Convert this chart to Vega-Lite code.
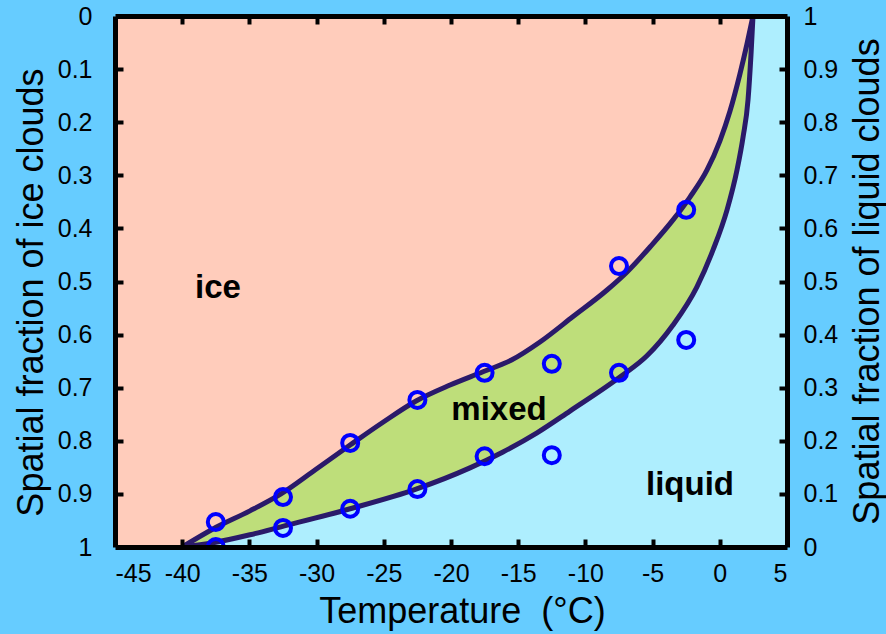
{
  "$schema": "https://vega.github.io/schema/vega-lite/v6.json",
  "autosize": {"type": "none"},
  "padding": {"left": 115, "top": 16, "right": 99, "bottom": 87},
  "width": 672,
  "height": 531,
  "background": "#66CCFF",
  "config": {
    "view": {"fill": "#AEEEFE", "stroke": null},
    "axis": {
      "domainColor": "#000000", "domainWidth": 5,
      "tickColor": "#000000", "tickWidth": 4,
      "labelFont": "Liberation Sans", "labelFontSize": 25, "labelColor": "#000000",
      "titleFont": "Liberation Sans", "titleFontSize": 36, "titleFontWeight": "normal", "titleColor": "#000000",
      "grid": false
    }
  },
  "datasets": {
    "upper": [
      {"t": -45, "ice": 1}, {"t": -40, "ice": 1}, {"t": -37.71, "ice": 0.966}, {"t": -34.96, "ice": 0.932},
      {"t": -32.65, "ice": 0.900}, {"t": -30.12, "ice": 0.855}, {"t": -27.51, "ice": 0.808}, {"t": -25.06, "ice": 0.765},
      {"t": -22.6, "ice": 0.725}, {"t": -20.07, "ice": 0.695}, {"t": -17.62, "ice": 0.670}, {"t": -15.5, "ice": 0.648},
      {"t": -13.38, "ice": 0.614}, {"t": -10.92, "ice": 0.566}, {"t": -8.39, "ice": 0.516}, {"t": -6.9, "ice": 0.482},
      {"t": -5.19, "ice": 0.435}, {"t": -3.48, "ice": 0.384}, {"t": -2.22, "ice": 0.341}, {"t": -0.95, "ice": 0.290},
      {"t": 0.01, "ice": 0.235}, {"t": 0.76, "ice": 0.179}, {"t": 1.5, "ice": 0.109}, {"t": 2.02, "ice": 0.053},
      {"t": 2.47, "ice": 0}
    ],
    "lower": [
      {"t": -40, "ice": 1}, {"t": -37.71, "ice": 0.992}, {"t": -34.96, "ice": 0.977}, {"t": -32.65, "ice": 0.962},
      {"t": -27.51, "ice": 0.928}, {"t": -22.6, "ice": 0.891}, {"t": -18.59, "ice": 0.851}, {"t": -16.13, "ice": 0.821},
      {"t": -13.6, "ice": 0.785}, {"t": -11.15, "ice": 0.744}, {"t": -7.43, "ice": 0.680}, {"t": -5.42, "ice": 0.640},
      {"t": -3.48, "ice": 0.582}, {"t": -1.7, "ice": 0.510}, {"t": -0.51, "ice": 0.441}, {"t": 0.54, "ice": 0.365},
      {"t": 1.28, "ice": 0.290}, {"t": 1.73, "ice": 0.228}, {"t": 2.1, "ice": 0.158}, {"t": 2.32, "ice": 0.073},
      {"t": 2.47, "ice": 0}
    ],
    "pts": [
      {"t": -37.5, "ice": 0.953}, {"t": -32.5, "ice": 0.906}, {"t": -27.5, "ice": 0.804}, {"t": -22.5, "ice": 0.723},
      {"t": -17.5, "ice": 0.672}, {"t": -12.5, "ice": 0.655}, {"t": -7.5, "ice": 0.471}, {"t": -2.5, "ice": 0.365},
      {"t": -37.5, "ice": 1.0}, {"t": -32.5, "ice": 0.964}, {"t": -27.5, "ice": 0.928}, {"t": -22.5, "ice": 0.891},
      {"t": -17.5, "ice": 0.829}, {"t": -12.5, "ice": 0.827}, {"t": -7.5, "ice": 0.672}, {"t": -2.5, "ice": 0.610}
    ],
    "labels": [
      {"t": -37.34, "ice": 0.531, "label": "ice"},
      {"t": -16.43, "ice": 0.761, "label": "mixed"},
      {"t": -2.22, "ice": 0.902, "label": "liquid"}
    ],
    "frame": [
      {"t": -45, "liquid": 0}, {"t": 5, "liquid": 1}
    ]
  },
  "layer": [
    {
      "encoding": {
        "x": {
          "field": "t", "type": "quantitative",
          "scale": {"domain": [-45, 5], "nice": false, "zero": false},
          "axis": {
            "orient": "bottom", "values": [-45, -40, -35, -30, -25, -20, -15, -10, -5, 0, 5],
            "ticks": false, "tickSize": 0, "zindex": 2,
            "labelExpr": "'' + datum.value", "labelPadding": 14,
            "title": "Temperature\u00a0\u00a0(°C)", "titleX": 347, "titleY": 75, "titleBaseline": "alphabetic"
          }
        },
        "y": {
          "field": "ice", "type": "quantitative",
          "scale": {"domain": [0, 1], "reverse": true, "nice": false, "zero": false},
          "axis": {
            "orient": "left", "values": [0, 0.1, 0.2, 0.3, 0.4, 0.5, 0.6, 0.7, 0.8, 0.9, 1],
            "ticks": false, "tickSize": 0, "zindex": 2,
            "labelExpr": "'' + datum.value", "labelPadding": 23,
            "title": "Spatial fraction of ice clouds", "titleAngle": -90,
            "titleX": -73, "titleY": 276, "titleBaseline": "alphabetic"
          }
        }
      },
      "layer": [
        {
          "data": {"name": "lower"},
          "mark": {"type": "area", "interpolate": "monotone", "fill": "#BEDE7A", "opacity": 1},
          "encoding": {"y2": {"datum": 0}}
        },
        {
          "data": {"name": "upper"},
          "mark": {"type": "area", "interpolate": "monotone", "fill": "#FFCCBB", "opacity": 1},
          "encoding": {"y2": {"datum": 0}}
        },
        {
          "data": {"name": "upper"},
          "transform": [{"filter": "datum.t >= -40"}],
          "mark": {"type": "line", "interpolate": "monotone", "color": "#2A1A6A", "strokeWidth": 5},
          "encoding": {}
        },
        {
          "data": {"name": "lower"},
          "mark": {"type": "line", "interpolate": "monotone", "color": "#2A1A6A", "strokeWidth": 5},
          "encoding": {}
        },
        {
          "data": {"name": "pts"},
          "mark": {"type": "point", "shape": "circle", "filled": false, "color": "#0000FF", "strokeWidth": 4, "size": 256, "opacity": 1, "clip": true},
          "encoding": {}
        },
        {
          "data": {"name": "labels"},
          "mark": {"type": "text", "font": "Liberation Sans", "fontWeight": "bold", "fontSize": 33, "baseline": "alphabetic", "align": "center", "color": "#000000"},
          "encoding": {"text": {"field": "label"}}
        }
      ]
    },
    {
      "data": {"name": "frame"},
      "mark": {"type": "point", "opacity": 0},
      "encoding": {
        "x": {
          "field": "t", "type": "quantitative",
          "scale": {"domain": [-45, 5], "nice": false, "zero": false},
          "axis": {"orient": "top", "ticks": false, "labels": false, "title": null, "zindex": 2}
        },
        "y": {
          "field": "liquid", "type": "quantitative",
          "scale": {"domain": [0, 1], "nice": false, "zero": false},
          "axis": {
            "orient": "right", "values": [0, 0.1, 0.2, 0.3, 0.4, 0.5, 0.6, 0.7, 0.8, 0.9, 1],
            "ticks": false, "tickSize": 0, "zindex": 2,
            "labelExpr": "'' + datum.value", "labelPadding": 16,
            "title": "Spatial fraction of liquid clouds", "titleAngle": -90,
            "titleX": 91, "titleY": 265, "titleBaseline": "alphabetic"
          }
        }
      }
    },
    {
      "data": {"name": "frame"},
      "mark": {"type": "point", "opacity": 0},
      "encoding": {
        "x": {
          "field": "t", "type": "quantitative",
          "scale": {"domain": [-45, 5], "nice": false, "zero": false},
          "axis": {"orient": "bottom", "offset": -8, "tickSize": 8, "domain": false, "labels": false, "title": null, "zindex": 1,
                   "values": [-40, -35, -30, -25, -20, -15, -10, -5, 0]}
        },
        "y": {
          "field": "liquid", "type": "quantitative",
          "scale": {"domain": [0, 1], "nice": false, "zero": false},
          "axis": {"orient": "left", "offset": -8, "tickSize": 8, "domain": false, "labels": false, "title": null, "zindex": 1,
                   "values": [0.1, 0.2, 0.3, 0.4, 0.5, 0.6, 0.7, 0.8, 0.9]}
        }
      }
    },
    {
      "data": {"name": "frame"},
      "mark": {"type": "point", "opacity": 0},
      "encoding": {
        "x": {
          "field": "t", "type": "quantitative",
          "scale": {"domain": [-45, 5], "nice": false, "zero": false},
          "axis": {"orient": "top", "offset": -8, "tickSize": 8, "domain": false, "labels": false, "title": null, "zindex": 1,
                   "values": [-40, -35, -30, -25, -20, -15, -10, -5, 0]}
        },
        "y": {
          "field": "liquid", "type": "quantitative",
          "scale": {"domain": [0, 1], "nice": false, "zero": false},
          "axis": {"orient": "right", "offset": -8, "tickSize": 8, "domain": false, "labels": false, "title": null, "zindex": 1,
                   "values": [0.1, 0.2, 0.3, 0.4, 0.5, 0.6, 0.7, 0.8, 0.9]}
        }
      }
    }
  ],
  "resolve": {"scale": {"x": "independent", "y": "independent"}}
}
